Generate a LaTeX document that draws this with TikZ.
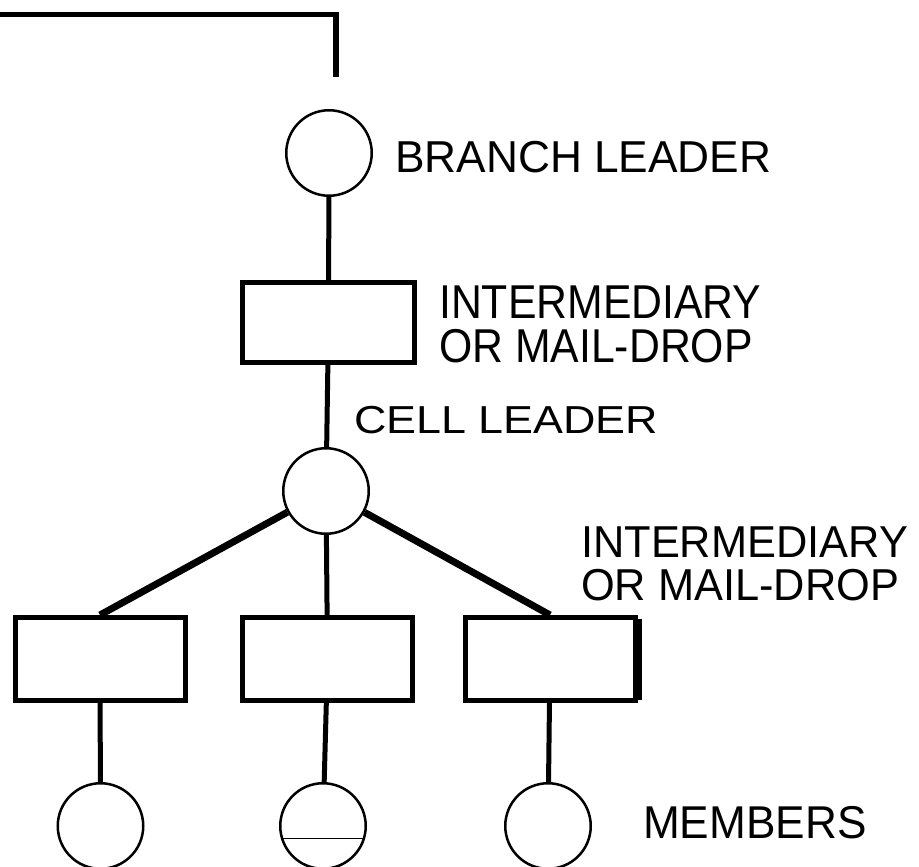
\documentclass[tikz,border=0pt]{standalone}
\usepackage{fontspec}
\setmainfont{Liberation Sans}
\usepackage{tikz}
\usetikzlibrary{positioning}

\tikzset{
  leader/.style={circle, draw, line width=2.5pt, minimum size=85.5pt, inner sep=0pt},
  drop/.style={rectangle, draw, line width=5pt, minimum width=170pt, minimum height=83pt, inner sep=0pt},
  tag/.style={anchor=base west, inner sep=0pt, align=left},
  link/.style={line width=5pt},
  branchlink/.style={line width=7pt},
}

\begin{document}
\begin{tikzpicture}[x=1pt, y=-1pt]
\path[use as bounding box, fill=white] (0,0) rectangle (919,867);
% line coming from above
\coordinate (up) at (-5,14.5);
\coordinate (upend) at (336,77);
\draw[line width=5.5pt] (up) -| (upend);

\node [leader] (branch) at (329,153) {};
\node [drop, minimum width=172pt, minimum height=80pt] (mail) at (328.5,322.5) {};
\node [leader] (cell) at (326,491) {};

\node [drop] (mailA) at (100,659) {};
\node [drop] (mailB) at (327.5,659) {};
\node [drop] (mailC) at (550,659) {};
\draw [line width=8pt] ([yshift=-4pt]mailC.north east) -- ([yshift=3pt]mailC.south east);

\node [leader] (memA) at (100.5,826) {};
\node [leader] (memB) at (323,826) {};
\node [leader] (memC) at (548,826) {};
\draw [line width=1.2pt] (memB.197) -- (memB.-17);

\draw [link] (branch) -- (mail);
\draw [link] (mail) -- (cell);
\draw [branchlink] (cell) -- (mailA.north);
\draw [link] (cell) -- (mailB);
\draw [branchlink] (cell) -- (mailC.north);
\draw [link] (mailA) -- (memA);
\draw [link] (mailB) -- (memB);
\draw [link] (mailC) -- (memC);

% labels (base of a two-line tag is its last line)
\node [tag, xscale=0.99, font={\fontsize{44.7}{44}\selectfont}] (tbranch) at (395,172) {BRANCH LEADER};
\node [tag, xscale=0.9, font={\fontsize{47.5}{44}\selectfont}] (tmail) at (439,362) {INTERMEDIARY\\OR MAIL-DROP};
\node [tag, xscale=1.15, font={\fontsize{39}{40}\selectfont}] (tcell) at (354,433) {CELL LEADER};
\node [tag, xscale=0.97, font={\fontsize{44.7}{43}\selectfont}] (tmailB) at (581,600) {INTERMEDIARY\\OR MAIL-DROP};
\node [tag, xscale=0.96, font={\fontsize{46}{46}\selectfont}] (tmem) at (643,838) {MEMBERS};
\end{tikzpicture}
\end{document}
